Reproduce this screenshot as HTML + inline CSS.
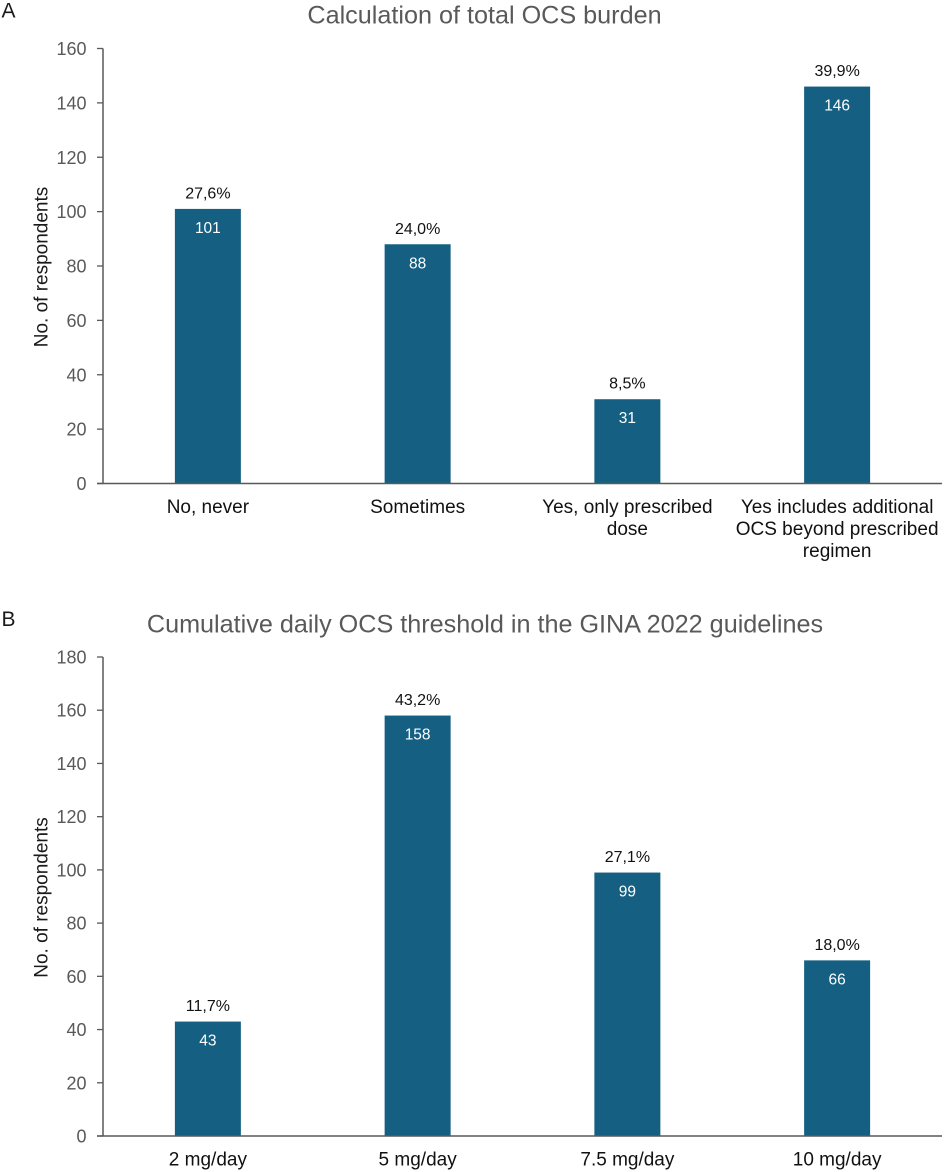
<!DOCTYPE html>
<html>
<head>
<meta charset="utf-8">
<style>
html,body{margin:0;padding:0;background:#fff;}
svg{display:block;font-family:"Liberation Sans",sans-serif;}
</style>
</head>
<body>
<svg id="chart" width="944" height="1172" viewBox="0 0 944 1172" xmlns="http://www.w3.org/2000/svg"></svg>
<script>
const categoriesA = [["No, never"], ["Sometimes"], ["Yes, only prescribed", "dose"], ["Yes includes additional", "OCS beyond prescribed", "regimen"]];
const valuesA = [101, 88, 31, 146];
const percentLabelsA = ["27,6%", "24,0%", "8,5%", "39,9%"];
const ticksA = [0, 20, 40, 60, 80, 100, 120, 140, 160];

const categoriesB = [["2 mg/day"], ["5 mg/day"], ["7.5 mg/day"], ["10 mg/day"]];
const valuesB = [43, 158, 99, 66];
const percentLabelsB = ["11,7%", "43,2%", "27,1%", "18,0%"];
const ticksB = [0, 20, 40, 60, 80, 100, 120, 140, 160, 180];

const svg = document.getElementById('chart');
const NS = 'http://www.w3.org/2000/svg';

function make(tag, attrs, text) {
  const el = document.createElementNS(NS, tag);
  for (const k in attrs) el.setAttribute(k, attrs[k]);
  if (text !== undefined) el.textContent = text;
  svg.appendChild(el);
  return el;
}

function drawPanel(p, categories, values, percents, ticks) {
  const left = 103, right = 942, tickLeft = 97;
  const maxTick = ticks[ticks.length - 1];
  const yScale = v => p.y0 + (p.yTop - p.y0) * v / maxTick;
  const band = (right - left) / categories.length;
  const xCenter = i => left + band * (i + 0.5);
  const barW = 66;

  let el = make('text', {x: 1.5, y: p.letterY, 'font-size': 21, fill: '#1a1a1a'}, p.letter);
  
  

  el = make('text', {x: p.titleX, y: p.titleY, 'font-size': p.titleSize, fill: '#595959', 'text-anchor': 'middle'}, p.title);
  
  

  const ym = (p.y0 + p.yTop) / 2 + 1;
  el = make('text', {x: 47.5, y: ym, 'font-size': 19, fill: '#1a1a1a', 'text-anchor': 'middle', transform: 'rotate(-90 47.5 ' + ym + ')'}, 'No. of respondents');
  
  

  values.forEach((v, i) => {
    const y = yScale(v);
    const cx = xCenter(i);
    const bar = make('rect', {x: cx - barW / 2, y: y, width: barW, height: p.y0 - y, fill: '#156082'});
    
    

    const count = make('text', {x: cx, y: y + 24, 'font-size': 15.5, fill: '#ffffff', 'text-anchor': 'middle'}, String(v));
    
    

    const pct = make('text', {x: cx, y: y - 10.5, 'font-size': 16, fill: '#111111', 'text-anchor': 'middle'}, percents[i]);
    
    

    categories[i].forEach((line, j) => {
      const lab = make('text', {x: cx, y: p.y0 + 29.5 + j * 22, 'font-size': 19, fill: '#111111', 'text-anchor': 'middle'}, line);
      
      
    });
  });

  ticks.forEach(t => {
    const y = yScale(t);
    const mark = make('line', {x1: tickLeft, x2: left, y1: y, y2: y, stroke: '#595959', 'stroke-width': 1.3});
    
    

    const lab = make('text', {x: 86.5, y: y + 6.5, 'font-size': 18, fill: '#595959', 'text-anchor': 'end'}, String(t));
    
    
  });

  el = make('line', {x1: left, x2: left, y1: p.yTop, y2: p.y0, stroke: '#595959', 'stroke-width': 1.5});
  
  

  el = make('line', {x1: tickLeft, x2: right, y1: p.y0, y2: p.y0, stroke: '#595959', 'stroke-width': 1.5});
  
  
}

drawPanel({id: 'a', letter: 'A', letterY: 17.5, title: 'Calculation of total OCS burden', titleX: 484.5, titleY: 23.5, titleSize: 25.2, yTop: 48.5, y0: 483.5},
  categoriesA, valuesA, percentLabelsA, ticksA);
drawPanel({id: 'b', letter: 'B', letterY: 626, title: 'Cumulative daily OCS threshold in the GINA 2022 guidelines', titleX: 485, titleY: 632.5, titleSize: 25.2, yTop: 657, y0: 1136},
  categoriesB, valuesB, percentLabelsB, ticksB);
</script>
</body>
</html>
